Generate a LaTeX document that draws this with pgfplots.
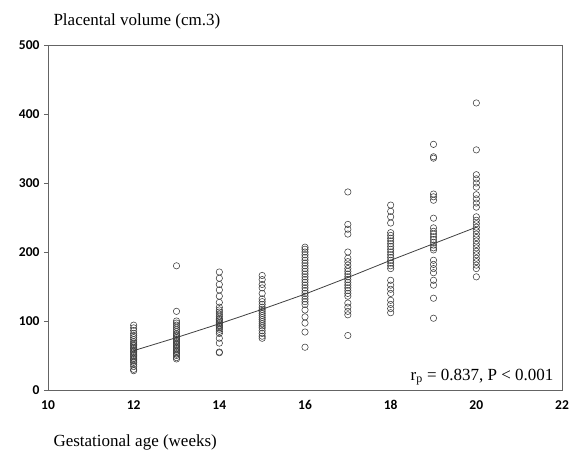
\documentclass[border=0pt]{standalone}
\usepackage{fontspec}
\setmainfont{Liberation Serif}
\newfontfamily\tickfont{Carlito}
\usepackage{pgfplots}
\pgfplotsset{compat=1.18}
\definecolor{framegray}{RGB}{100,100,100}
\definecolor{markgray}{RGB}{60,60,60}

\begin{document}
\begin{tikzpicture}
\path[use as bounding box] (-48pt,-65pt) rectangle (524pt,390pt);
\begin{axis}[
    scale only axis,
    width=514pt, height=345pt,
    at={(0,0)}, anchor=south west,
    xmin=10, xmax=22, ymin=0, ymax=500,
    xtick={10,12,...,22},
    ytick={0,100,...,500},
    axis line style={framegray, line width=0.8pt},
    tick style={framegray, line width=0.8pt},
    ytick pos=left, xtick pos=bottom,
    tick align=outside,
    major tick length=4pt,
    xtick style={draw=none},
    ticklabel style={font=\tickfont\bfseries\fontsize{13.5}{16}\selectfont, black},
    /pgf/number format/assume math mode=true,
    xticklabel style={yshift=-3pt},
    yticklabel style={xshift=-1pt},
    clip=false,
]

% fitted curve
\addplot[black!75, line width=0.8pt] coordinates {
(12,57) (13,76) (14,96) (15,117) (16,139) (17,163) (18,188) (19,212) (20,236)};

% observations
\addplot[only marks, mark=o, mark size=3.2pt, mark options={markgray, line width=0.55pt}] table {
x y
12 94
12 90
12 86
12 82
12 79
12 76
12 73
12 70
12 68
12 66
12 64
12 62
12 60
12 58
12 56
12 54
12 52
12 50
12 48
12 46
12 44
12 42
12 40
12 37
12 34
12 30
12 28
13 180
13 114
13 100
13 97
13 94
13 91
13 88
13 85
13 82
13 80
13 78
13 76
13 74
13 72
13 70
13 68
13 66
13 64
13 62
13 60
13 58
13 56
13 54
13 52
13 50
13 47
13 45
14 171
14 162
14 153
14 145
14 136
14 127
14 120
14 116
14 113
14 110
14 107
14 104
14 102
14 100
14 98
14 96
14 94
14 92
14 90
14 88
14 85
14 82
14 75
14 68
14 55
14 54
15 166
15 160
15 153
15 148
15 140
15 132
15 128
15 124
15 120
15 117
15 114
15 111
15 108
15 105
15 102
15 99
15 96
15 93
15 90
15 86
15 82
15 78
15 75
16 207
16 204
16 200
16 196
16 192
16 188
16 184
16 180
16 176
16 172
16 168
16 164
16 160
16 156
16 152
16 148
16 144
16 140
16 136
16 132
16 128
16 124
16 116
16 106
16 97
16 84
16 62
17 287
17 240
17 233
17 226
17 200
17 191
17 186
17 181
17 176
17 172
17 168
17 164
17 160
17 156
17 152
17 148
17 144
17 140
17 136
17 126
17 120
17 114
17 109
17 79
18 268
18 259
18 251
18 242
18 228
18 224
18 220
18 216
18 212
18 208
18 204
18 200
18 196
18 192
18 188
18 184
18 180
18 176
18 159
18 152
18 146
18 140
18 130
18 124
18 118
18 112
19 356
19 338
19 336
19 284
19 280
19 275
19 249
19 235
19 230
19 226
19 222
19 218
19 214
19 210
19 206
19 203
19 188
19 182
19 176
19 170
19 159
19 152
19 133
19 104
20 416
20 348
20 312
20 306
20 300
20 294
20 283
20 277
20 271
20 265
20 251
20 246
20 241
20 236
20 231
20 226
20 221
20 216
20 211
20 206
20 201
20 196
20 191
20 186
20 181
20 176
20 164
};

\node[anchor=base east, font=\fontsize{17}{20}\selectfont]
  at ([xshift=-5pt, yshift=10pt]rel axis cs:1,0) {r\textsubscript{p} = 0.837, P < 0.001};
\node[anchor=base west, font=\fontsize{17}{20}\selectfont]
  at ([xshift=2pt, yshift=20pt]rel axis cs:0,1) {Placental volume (cm.3)};
\node[anchor=base west, font=\fontsize{17}{20}\selectfont]
  at ([xshift=2pt, yshift=-56pt]rel axis cs:0,0) {Gestational age (weeks)};
\end{axis}
\end{tikzpicture}
\end{document}
